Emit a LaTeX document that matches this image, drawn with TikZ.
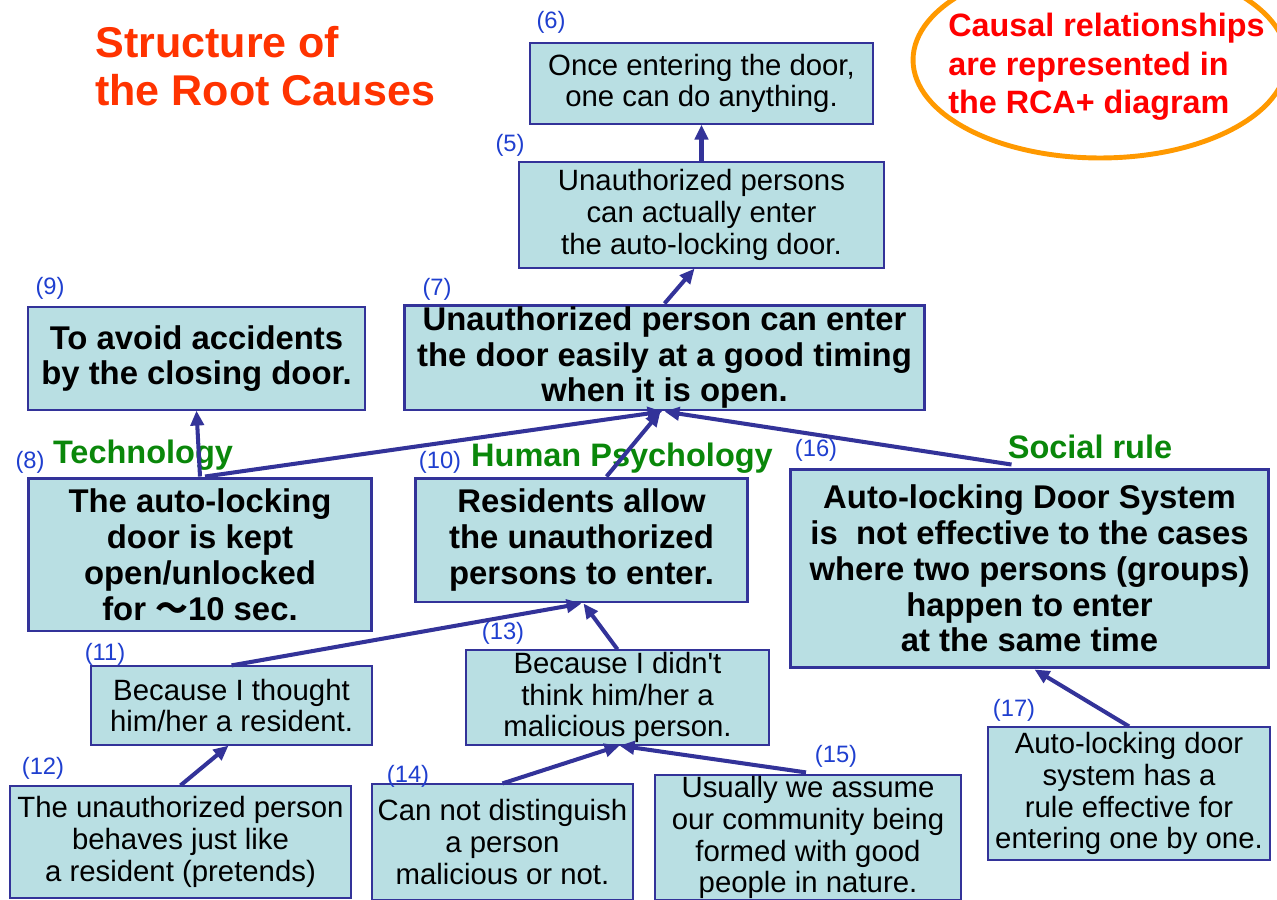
\documentclass[tikz,border=0pt]{standalone}
\usepackage{fontspec}
\setmainfont{Liberation Sans}
\newfontfamily\cjk{Noto Sans CJK JP}
\usetikzlibrary{calc,arrows.meta}
\definecolor{boxfill}{HTML}{B9DFE3}
\definecolor{boxline}{HTML}{333399}
\definecolor{numblue}{HTML}{1F3FCF}
\definecolor{catgreen}{HTML}{0A870A}
\definecolor{titlered}{HTML}{FF3300}
\definecolor{ringorange}{HTML}{FF9900}

\begin{document}
\begin{tikzpicture}[x=0.02cm, y=-0.02cm,
    plainbox/.style={draw=boxline, line width=0.7pt, fill=boxfill, align=center, inner sep=0pt,
        font=\fontsize{16.7}{18.1}\selectfont},
    boldbox/.style={plainbox, line width=1.7pt, font=\fontsize{18.7}{20.4}\selectfont\bfseries},
    num/.style={text=numblue, inner sep=0pt, font=\fontsize{13.5}{15}\selectfont},
    cat/.style={text=catgreen, inner sep=0pt, font=\fontsize{18.5}{20}\selectfont\bfseries},
    arr/.style={-{Triangle[length=8.5pt,width=7.5pt]}, draw=boxline, line width=2.3pt}]
    \useasboundingbox (0,0) rectangle (1277,899);

    % Title
    \node[anchor=west, align=left, inner sep=0pt, text=titlered,
        font=\fontsize{24.5}{27.2}\selectfont\bfseries] (title) at (95,66) {Structure of\\the Root Causes};

    % Note in the ring
    \draw[ringorange, line width=2.8pt] (1100,60) ellipse [x radius=3.74cm, y radius=1.96cm];
    \node[anchor=west, align=left, inner sep=0pt, text=red,
        font=\fontsize{18.4}{22}\selectfont\bfseries] (note) at (948,67)
        {Causal relationships\\are represented in\\the RCA+ diagram};

    % Boxes
    \node[plainbox, minimum width=6.86cm, minimum height=1.62cm] (n6) at (701.5,83.5)
        {Once entering the door,\\one can do anything.};
    \node[plainbox, minimum width=7.30cm, minimum height=2.12cm] (n5) at (701.5,215)
        {Unauthorized persons\\can actually enter\\the auto-locking door.};
    \node[boldbox, minimum width=10.42cm, minimum height=2.10cm] (n7) at (664.5,357.5)
        {Unauthorized person can enter\\the door easily at a good timing\\when it is open.};
    \node[boldbox, line width=0.7pt, minimum width=6.74cm, minimum height=2.06cm] (n9) at (196.5,358.5)
        {To avoid accidents\\by the closing door.};
    \node[boldbox, minimum width=6.88cm, minimum height=3.06cm] (n8) at (200,554.5)
        {The auto-locking\\door is kept\\open/unlocked\\ for {\cjk ～}10 sec.};
    \node[boldbox, minimum width=6.66cm, minimum height=2.48cm] (n10) at (581.5,540)
        {Residents allow\\the unauthorized\\persons to enter.};
    \node[boldbox, minimum width=9.58cm, minimum height=3.98cm] (n16) at (1029.5,568.5)
        {Auto-locking Door System\\is~ not effective to the cases\\where two persons (groups)\\happen to enter\\at the same time};
    \node[plainbox, minimum width=5.62cm, minimum height=1.58cm] (n11) at (231.5,705.5)
        {Because I thought\\him/her a resident.};
    \node[plainbox, minimum width=6.06cm, minimum height=1.90cm] (n13) at (617.5,697.5)
        {Because I didn\textquotesingle t\\think him/her a\\malicious person.};
    \node[plainbox, minimum width=6.82cm, minimum height=2.24cm] (n12) at (180.5,842)
        {The unauthorized person\\behaves just like\\a resident (pretends)};
    \node[plainbox, minimum width=5.22cm, minimum height=2.32cm] (n14) at (502.5,842)
        {Can not distinguish\\a person\\malicious or not.};
    \node[plainbox, minimum width=6.12cm, minimum height=2.50cm] (n15) at (808,837.5)
        {Usually we assume\\our community being\\formed with good\\people in nature.};
    \node[plainbox, minimum width=5.64cm, minimum height=2.66cm] (n17) at (1129,793.5)
        {Auto-locking door\\system has a\\rule effective for\\entering one by one.};

    % Numbers
    \node[num] (l6) at (551,22) {(6)};
    \node[num] (l5) at (510,145) {(5)};
    \node[num] (l7) at (437,289) {(7)};
    \node[num] (l9) at (50,288) {(9)};
    \node[num] (l8) at (30,462) {(8)};
    \node[num] (l10) at (440,462) {(10)};
    \node[num] (l16) at (816,450) {(16)};
    \node[num] (l11) at (105,654) {(11)};
    \node[num] (l13) at (503,633) {(13)};
    \node[num] (l12) at (43,768) {(12)};
    \node[num] (l14) at (408,776) {(14)};
    \node[num] (l15) at (836,756) {(15)};
    \node[num] (l17) at (1014,710) {(17)};

    % Categories
    \node[cat] (tech) at (143,455) {Technology};
    \node[cat] (psy) at (622,458) {Human Psychology};
    \node[cat] (rule) at (1090,447) {Social rule};

    % Causal arrows
    \draw[arr] (n5.north) -- (n6.south);
    \draw[arr] (n7.north) -- ($(n5.south)+(-7,0)$);
    \draw[arr] (n8.north) -- (n9.south);
    \draw[arr] ($(n8.north)+(5,0)$) -- ($(n7.south)+(-2,0)$);
    \draw[arr] ($(n10.north)+(25,0)$) -- ($(n7.south)+(-4,0)$);
    \draw[arr] ($(n16.north)+(-18,-3)$) -- (n7.south);
    \draw[arr] (n11.north) -- (n10.south);
    \draw[arr] (n13.north) -- ($(n10.south)+(2,0)$);
    \draw[arr] (n12.north) -- ($(n11.south)+(-3,0)$);
    \draw[arr] (n14.north) -- ($(n13.south)+(2,0)$);
    \draw[arr] ($(n15.north)+(-2,-2)$) -- ($(n13.south)+(2,0)$);
    \draw[arr] (n17.north) -- ($(n16.south)+(5,0)$);
\end{tikzpicture}
\end{document}
